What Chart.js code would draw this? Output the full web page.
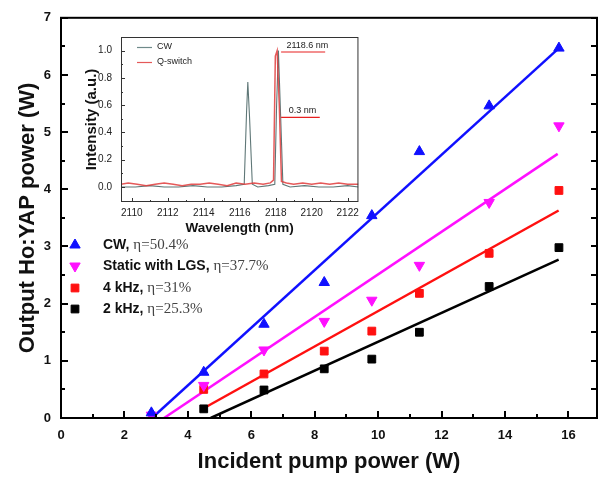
<!DOCTYPE html>
<html lang="en">
<head>
<meta charset="UTF-8" />
<title>Ho:YAP output power</title>
<script src="https://cdn.jsdelivr.net/npm/chart.js"></script>
<style>
  body { margin: 0; background: #fff; }
  .wrap { position: relative; width: 604px; height: 481px; }
  #mainChart { position: absolute; left: 0; top: 0; }
  #insetChart { position: absolute; left: 80px; top: 22px; }
</style>
</head>
<body>
<div class="wrap">
  <canvas id="mainChart" width="604" height="481"></canvas>
  <canvas id="insetChart" width="284" height="220"></canvas>
</div>
<script>
// main plot: output power vs incident pump power
const pumpPower = [2.85, 4.5, 6.4, 8.3, 9.8, 11.3, 13.5, 15.7];
const cwPower   = [0.09, 0.8, 1.64, 2.37, 3.54, 4.66, 5.46, 6.47];
const lgsPower  = [0.05, 0.57, 1.19, 1.69, 2.06, 2.67, 3.77, 5.11];
const khz4Power = [null, 0.5, 0.77, 1.17, 1.52, 2.18, 2.88, 3.98];
const khz2Power = [null, 0.16, 0.49, 0.86, 1.03, 1.5, 2.3, 2.98];

// linear fits (end points)
const cwFitX = [2.87, 15.7],  cwFitY = [0, 6.47];
const lgsFitX = [3.25, 15.66], lgsFitY = [0, 4.62];
const k4FitX = [4.5, 15.69],  k4FitY = [0.17, 3.63];
const k2FitX = [4.72, 15.69], k2FitY = [0, 2.77];

const xTicks = [0, 2, 4, 6, 8, 10, 12, 14, 16];
const yTicks = [0, 1, 2, 3, 4, 5, 6, 7];

const legendNames = ['CW,', 'Static with LGS,', '4 kHz,', '2 kHz,'];
const legendEta = ['\u03b7=50.4%', '\u03b7=37.7%', '\u03b7=31%', '\u03b7=25.3%'];

// inset: spectra
const cwWl  = [2109.4, 2110.2, 2111.0, 2111.8, 2112.6, 2113.4, 2114.2, 2115.0, 2115.8, 2116.25, 2116.38, 2116.45, 2116.55, 2116.7, 2117.0, 2117.6, 2117.95, 2118.05, 2118.15, 2118.28, 2118.4, 2118.8, 2119.6, 2120.4, 2121.2, 2122.0, 2122.6];
const cwInt = [0.0, 0.0, 0.01, 0.0, 0.0, 0.01, 0.0, 0.0, 0.01, 0.02, 0.55, 0.77, 0.5, 0.02, 0.0, 0.01, 0.02, 0.6, 1.0, 0.5, 0.02, 0.0, 0.01, 0.0, 0.0, 0.01, 0.0];
const qWl  = [2109.4, 2109.8, 2110.3, 2110.8, 2111.3, 2111.8, 2112.3, 2112.8, 2113.3, 2113.8, 2114.3, 2114.8, 2115.3, 2115.8, 2116.3, 2116.8, 2117.3, 2117.7, 2117.88, 2117.98, 2118.08, 2118.2, 2118.32, 2118.6, 2119.0, 2119.5, 2120.0, 2120.5, 2121.0, 2121.5, 2122.0, 2122.6];
const qInt = [0.02, 0.03, 0.02, 0.01, 0.02, 0.03, 0.02, 0.01, 0.02, 0.02, 0.03, 0.02, 0.01, 0.03, 0.02, 0.03, 0.02, 0.03, 0.05, 0.96, 1.0, 0.6, 0.04, 0.03, 0.02, 0.03, 0.02, 0.03, 0.02, 0.03, 0.02, 0.02];
const annTopX = [2118.3, 2120.75], annTopY = [0.99, 0.99];
const annMidX = [2118.3, 2120.45], annMidY = [0.51, 0.51];
const insetXTicks = [2110, 2112, 2114, 2116, 2118, 2120, 2122];
const insetYTicks = [0, 0.2, 0.4, 0.6, 0.8, 1.0];

const SANS = 'Liberation Sans, Arial, sans-serif';

function pts(xs, ys) {
  return xs.map((x, i) => ({ x: x, y: ys[i] })).filter(p => p.y !== null);
}

const markers = [
  { color: '#1010ff', style: 'triangle', rot: 0, r: 6 },
  { color: '#ff10ff', style: 'triangle', rot: 180, r: 6 },
  { color: '#ff1010', style: 'rect', rot: 0, r: 5.5 },
  { color: '#000000', style: 'rect', rot: 0, r: 5.5 }
];

function pointSet(ys, m) {
  return {
    data: pts(pumpPower, ys),
    showLine: false,
    pointStyle: m.style,
    rotation: m.rot,
    pointRadius: m.r,
    backgroundColor: m.color,
    borderColor: m.color,
    borderWidth: 1
  };
}
function fitSet(xs, ys, color) {
  return {
    data: pts(xs, ys),
    showLine: true,
    pointRadius: 0,
    borderColor: color,
    borderWidth: 2.5
  };
}

const mainFrame = {
  id: 'mainFrame',
  afterDraw(chart) {
    const ctx = chart.ctx;
    const a = chart.chartArea;
    const xs = chart.scales.x, ys = chart.scales.y;
    ctx.save();
    ctx.strokeStyle = '#000';
    ctx.lineWidth = 2;
    ctx.strokeRect(a.left, a.top, a.right - a.left, a.bottom - a.top);
    ctx.beginPath();
    for (let v = 0; v <= 16; v++) {
      const px = Math.round(xs.getPixelForValue(v));
      const len = v % 2 === 0 ? 7 : 4;
      ctx.moveTo(px, a.bottom); ctx.lineTo(px, a.bottom - len);
    }
    for (let v = 0; v <= 7; v += 0.5) {
      const py = Math.round(ys.getPixelForValue(v));
      const len = v % 1 === 0 ? 7 : 4;
      ctx.moveTo(a.left, py); ctx.lineTo(a.left + len, py);
      ctx.moveTo(a.right, py); ctx.lineTo(a.right - 6, py);
    }
    ctx.stroke();

    // legend
    const rows = [245, 266, 288, 309];
    rows.forEach((y, i) => {
      const m = markers[i];
      ctx.fillStyle = m.color;
      ctx.strokeStyle = m.color;
      ctx.lineWidth = 1;
      Chart.helpers.drawPoint(ctx, { pointStyle: m.style, radius: m.r, rotation: m.rot, borderWidth: 1 }, 75, y);
      ctx.fillStyle = '#111';
      ctx.textBaseline = 'middle';
      ctx.textAlign = 'left';
      ctx.font = 'bold 14px ' + SANS;
      ctx.fillText(legendNames[i], 103, y);
      const w = ctx.measureText(legendNames[i] + ' ').width;
      ctx.fillStyle = '#444';
      ctx.font = '15px Liberation Serif, serif';
      ctx.fillText(legendEta[i], 103 + w, y);
    });
    ctx.restore();
  }
};

new Chart(document.getElementById('mainChart'), {
  type: 'scatter',
  data: {
    datasets: [
      pointSet(cwPower, markers[0]),
      pointSet(lgsPower, markers[1]),
      pointSet(khz4Power, markers[2]),
      pointSet(khz2Power, markers[3]),
      fitSet(cwFitX, cwFitY, '#1010ff'),
      fitSet(lgsFitX, lgsFitY, '#ff10ff'),
      fitSet(k4FitX, k4FitY, '#ff1010'),
      fitSet(k2FitX, k2FitY, '#000000')
    ]
  },
  options: {
    responsive: false,
    animation: false,
    layout: { padding: { top: 17, right: 3, left: 0, bottom: 0 } },
    plugins: { legend: { display: false }, tooltip: { enabled: false } },
    scales: {
      x: {
        type: 'linear', min: 0, max: 16.9,
        grid: { display: false, drawTicks: false },
        border: { display: false },
        afterBuildTicks: s => { s.ticks = xTicks.map(v => ({ value: v })); },
        afterFit: s => { s.height = 63; },
        ticks: { padding: 10, color: '#111', font: { family: SANS, size: 13, weight: 'bold' } },
        title: { display: true, text: 'Incident pump power (W)', color: '#111',
                 font: { family: SANS, size: 22, weight: 'bold' }, padding: { top: 0, bottom: 6 } }
      },
      y: {
        type: 'linear', min: 0, max: 7,
        grid: { display: false, drawTicks: false },
        border: { display: false },
        afterBuildTicks: s => { s.ticks = yTicks.map(v => ({ value: v })); },
        afterFit: s => { s.width = 61; },
        ticks: { padding: 10, color: '#111', font: { family: SANS, size: 13, weight: 'bold' } },
        title: { display: true, text: 'Output Ho:YAP power (W)', color: '#111',
                 font: { family: SANS, size: 22, weight: 'bold' }, padding: { top: 15, bottom: 0 } }
      }
    }
  },
  plugins: [mainFrame]
});

const insetFrame = {
  id: 'insetFrame',
  afterDraw(chart) {
    const ctx = chart.ctx;
    const a = chart.chartArea;
    const xs = chart.scales.x, ys = chart.scales.y;
    ctx.save();
    ctx.strokeStyle = '#333';
    ctx.lineWidth = 1;
    ctx.strokeRect(a.left + 0.5, a.top + 0.5, a.right - a.left - 1, a.bottom - a.top - 1);
    ctx.beginPath();
    for (let v = 2110; v <= 2122; v++) {
      const px = Math.round(xs.getPixelForValue(v)) + 0.5;
      const len = v % 2 === 0 ? 4 : 2;
      ctx.moveTo(px, a.bottom); ctx.lineTo(px, a.bottom - len);
    }
    for (let v = 0; v <= 10; v++) {
      const py = Math.round(ys.getPixelForValue(v / 10)) + 0.5;
      const len = v % 2 === 0 ? 4 : 2;
      ctx.moveTo(a.left, py); ctx.lineTo(a.left + len, py);
    }
    ctx.stroke();

    // inset legend
    const lx = a.left + 16;
    ctx.lineWidth = 1.2;
    ctx.strokeStyle = '#6f8a8a';
    ctx.beginPath(); ctx.moveTo(lx, 25.5); ctx.lineTo(lx + 15, 25.5); ctx.stroke();
    ctx.strokeStyle = 'rgba(225,60,60,0.85)';
    ctx.beginPath(); ctx.moveTo(lx, 40.5); ctx.lineTo(lx + 15, 40.5); ctx.stroke();
    ctx.fillStyle = '#222';
    ctx.font = '9px ' + SANS;
    ctx.textBaseline = 'middle';
    ctx.textAlign = 'left';
    ctx.fillText('CW', lx + 20, 25);
    ctx.fillText('Q-switch', lx + 20, 40);

    // peak annotations
    ctx.fillText('2118.6 nm', xs.getPixelForValue(2118.6), ys.getPixelForValue(1.04));
    ctx.fillText('0.3 nm', xs.getPixelForValue(2118.72), ys.getPixelForValue(0.56));
    ctx.restore();
  }
};

new Chart(document.getElementById('insetChart'), {
  type: 'scatter',
  data: {
    datasets: [
      { data: pts(annTopX, annTopY), showLine: true, pointRadius: 0, borderColor: '#e82020', borderWidth: 1.2 },
      { data: pts(annMidX, annMidY), showLine: true, pointRadius: 0, borderColor: '#e82020', borderWidth: 1.2 },
      { data: pts(qWl, qInt), showLine: true, pointRadius: 0, borderColor: 'rgba(225,60,60,0.85)', borderWidth: 1.5 },
      { data: pts(cwWl, cwInt), showLine: true, pointRadius: 0, borderColor: '#5f7777', borderWidth: 1.1 }
    ]
  },
  options: {
    responsive: false,
    animation: false,
    layout: { padding: { top: 5, right: 5, left: 0, bottom: 0 } },
    plugins: { legend: { display: false }, tooltip: { enabled: false } },
    scales: {
      x: {
        type: 'linear', min: 2109.4, max: 2122.6,
        grid: { display: false, drawTicks: false },
        border: { display: false },
        afterBuildTicks: s => { s.ticks = insetXTicks.map(v => ({ value: v })); },
        afterFit: s => { s.height = 40; },
        ticks: { padding: 5, color: '#222', font: { family: SANS, size: 10 }, callback: v => String(v) },
        title: { display: true, text: 'Wavelength (nm)', color: '#111',
                 font: { family: SANS, size: 13.5, weight: 'bold' }, padding: { top: 0, bottom: 6 } }
      },
      y: {
        type: 'linear', min: -0.11, max: 1.1,
        grid: { display: false, drawTicks: false },
        border: { display: false },
        afterBuildTicks: s => { s.ticks = insetYTicks.map(v => ({ value: v })); },
        afterFit: s => { s.width = 41; },
        ticks: { padding: 9, color: '#222', font: { family: SANS, size: 10 }, callback: v => v.toFixed(1) },
        title: { display: true, text: 'Intensity (a.u.)', color: '#111',
                 font: { family: SANS, size: 15, weight: 'bold' }, padding: { top: 3, bottom: 0 } }
      }
    }
  },
  plugins: [insetFrame]
});
</script>
</body>
</html>
